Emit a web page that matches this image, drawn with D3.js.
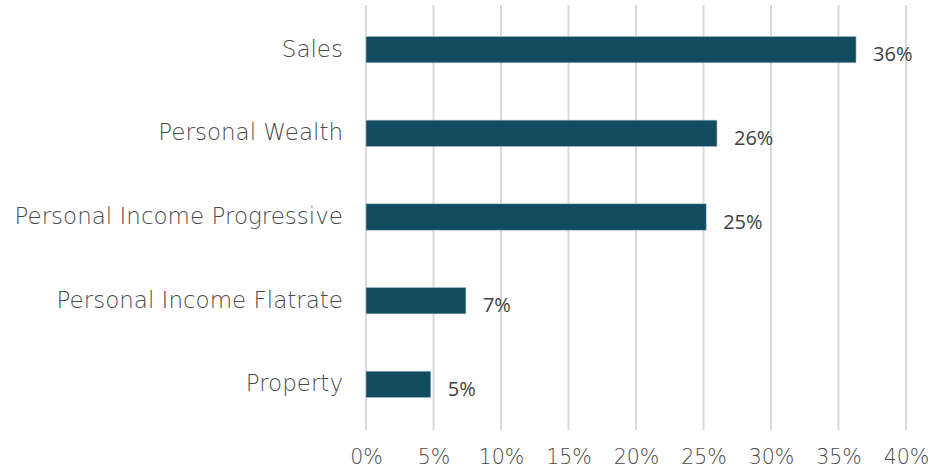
<!DOCTYPE html>
<html><head><meta charset="utf-8">
<script src="https://cdn.jsdelivr.net/npm/d3@7/dist/d3.min.js"></script>
<style>
body{margin:0;background:#fff;}
svg{display:block;}
</style></head><body>
<svg id="chart" width="930" height="469"></svg>
<script>
const categories = ["Sales","Personal Wealth","Personal Income Progressive","Personal Income Flatrate","Property"];
const values = [0.363, 0.260, 0.252, 0.074, 0.048];
const valueLabels = ["36%","26%","25%","7%","5%"];
const xTicks = [0,0.05,0.10,0.15,0.20,0.25,0.30,0.35,0.40];

const svg = d3.select("#chart");
const m = {left:366, right:24, top:8, bottom:43};
const W = 930, H = 469;
const x = d3.scaleLinear().domain([0,0.40]).range([m.left, W-m.right]);
const y = d3.scaleBand().domain(categories).range([m.top, H-m.bottom]).paddingInner(0.685).paddingOuter(0.34);
const gothic = "'Century Gothic','URW Gothic','DejaVu Sans',sans-serif";

// gridlines
svg.append("g").selectAll("line").data(xTicks).join("line")
  .attr("x1", d=>x(d)).attr("x2", d=>x(d))
  .attr("y1", 5).attr("y2", 430)
  .attr("stroke", "#d9d9d9").attr("stroke-width", 2);

// x axis labels
const xAxis = d3.axisBottom(x).tickValues(xTicks).tickFormat(d3.format(".0%")).tickSize(0).tickPadding(0);
const gx = svg.append("g").attr("transform", `translate(0,464)`).call(xAxis);
gx.select(".domain").remove();
gx.selectAll("text").attr("font-family",gothic).attr("font-weight",300)
  .attr("font-size", 20.5).attr("fill","#4a4a4a").attr("dy",null).attr("y",0);

// bars
svg.append("g").selectAll("rect").data(categories).join("rect")
  .attr("x", x(0)).attr("y", d=>y(d))
  .attr("width", (d,i)=>x(values[i])-x(0)).attr("height", y.bandwidth())
  .attr("fill", "#124b60").attr("stroke","#a9c4cf").attr("stroke-width",0.6);

// category labels
const yAxis = d3.axisLeft(y).tickSize(0).tickPadding(23);
const gy = svg.append("g").attr("transform", `translate(${x(0)},0)`).call(yAxis);
gy.select(".domain").remove();
gy.selectAll("text").attr("font-family",gothic).attr("font-weight",300)
  .attr("font-size", 23).attr("fill","#4a4a4a").attr("dy","0.3em");

// value labels
svg.append("g").selectAll("text").data(categories).join("text")
  .attr("x", (d,i)=>x(values[i]) + 17)
  .attr("y", d=>y(d)+y.bandwidth()/2)
  .attr("dy","0.58em")
  .attr("font-family","'Open Sans',sans-serif")
  .attr("font-size", 20).attr("fill","#404040")
  .text((d,i)=>valueLabels[i]);
</script>
</body></html>
